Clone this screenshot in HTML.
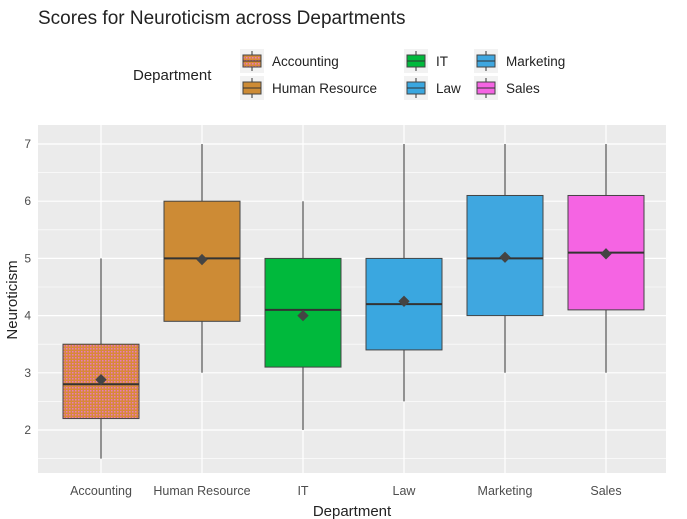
<!DOCTYPE html>
<html><head><meta charset="utf-8"><style>body{margin:0;background:#fff}svg{display:block;font-family:"Liberation Sans",Arial,sans-serif}</style></head>
<body>
<svg id="chart" width="687" height="519">
<defs><pattern id="acc" width="3" height="3" patternUnits="userSpaceOnUse"><rect width="3" height="3" fill="#d8893a"/><rect width="1.5" height="1.5" fill="#e87ac0"/></pattern></defs>
<text x="38" y="24" font-size="19" fill="#222">Scores for Neuroticism across Departments</text>
<g id="legend"></g>
<rect x="38" y="125" width="628" height="348" fill="#ebebeb"/>
<g id="grid"></g><g id="boxes"></g><g id="axes"></g>
<text x="352" y="516" font-size="15" text-anchor="middle" fill="#222">Department</text>
<text transform="translate(17,300) rotate(-90)" font-size="15" text-anchor="middle" fill="#222">Neuroticism</text>
</svg>
<script>
const categories=["Accounting","Human Resource","IT","Law","Marketing","Sales"];
const lowers=[1.5,3,2,2.5,3,3];
const q1s=[2.2,3.9,3.1,3.4,4.0,4.1];
const medians=[2.8,5.0,4.1,4.2,5.0,5.1];
const q3s=[3.5,6.0,5.0,5.0,6.1,6.1];
const uppers=[5,7,6,7,7,7];
const means=[2.88,4.98,4.0,4.25,5.02,5.08];
const colors=["url(#acc)","#cd8b35","#00b93c","#3aa7e0","#3fa7e0","#f564e3"];
const yTicks=[2,3,4,5,6,7];
const NS="http://www.w3.org/2000/svg";
const y=v=>144+(7-v)*57.2;
const x=i=>101+i*101;
const bw=76;
function mk(p,tag,a){const e=document.createElementNS(NS,tag);for(const k in a)e.setAttribute(k,a[k]);document.getElementById(p).appendChild(e);return e;}
for(let v=1.5;v<=7.5;v+=0.5){const g=mk('grid','line',{x1:38,x2:666,y1:y(v),y2:y(v),stroke:'#fff','stroke-width':v%1?0.6:1.2});

}
yTicks.forEach(t=>{const l=mk('axes','text',{x:31,y:y(t)+4,'font-size':12,'text-anchor':'end',fill:'#4d4d4d'});l.textContent=t;

});
categories.forEach((c,i)=>{
const g=mk('grid','line',{x1:x(i),x2:x(i),y1:125,y2:473,stroke:'#fff','stroke-width':1.2});


const w=mk('boxes','line',{x1:x(i),x2:x(i),y1:y(lowers[i]),y2:y(uppers[i]),stroke:'#333','stroke-width':1});


const b=mk('boxes','rect',{x:x(i)-bw/2,y:y(q3s[i]),width:bw,height:y(q1s[i])-y(q3s[i]),fill:colors[i],stroke:'#444','stroke-width':1});


const m=mk('boxes','line',{x1:x(i)-bw/2,x2:x(i)+bw/2,y1:y(medians[i]),y2:y(medians[i]),stroke:'#333','stroke-width':2});


const mm=mk('boxes','rect',{x:x(i)-4,y:y(means[i])-4,width:8,height:8,fill:'#444',transform:`rotate(45 ${x(i)} ${y(means[i])})`});


const l=mk('axes','text',{x:x(i),y:495,'font-size':12.5,'text-anchor':'middle',fill:'#4d4d4d'});l.textContent=c;


});
const lt=mk('legend','text',{x:133,y:80,'font-size':15,fill:'#222'});lt.textContent='Department';


const lx=[240,404,474],ly=[49,76];
categories.forEach((c,i)=>{const col=[0,0,1,1,2,2][i],row=[0,1,0,1,0,1][i];const kx=lx[col],ky=ly[row];
const k=mk('legend','rect',{x:kx,y:ky,width:24,height:24,fill:'#f2f2f2'});


mk('legend','line',{x1:kx+12,x2:kx+12,y1:ky+2,y2:ky+22,stroke:'#333'});
mk('legend','rect',{x:kx+3,y:ky+6,width:18,height:12,fill:colors[i],stroke:'#444'});
mk('legend','line',{x1:kx+3,x2:kx+21,y1:ky+12,y2:ky+12,stroke:'#333'});
const t=mk('legend','text',{x:kx+32,y:ky+17,'font-size':13.5,fill:'#222'});t.textContent=c;

});
</script>
</body></html>
